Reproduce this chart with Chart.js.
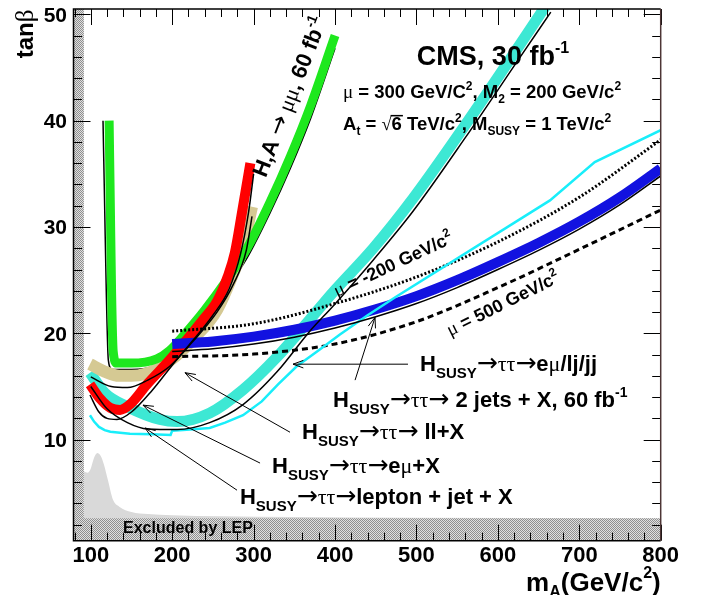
<!DOCTYPE html>
<html>
<head>
<meta charset="utf-8">
<script src="https://cdn.jsdelivr.net/npm/chart.js@4.4.1/dist/chart.umd.min.js"></script>
<style>
  html, body { margin: 0; padding: 0; background: #fff; }
</style>
</head>
<body>
<canvas id="reachChart" width="701" height="595"></canvas>
<script>
// tick labels
const xTicks = [100, 200, 300, 400, 500, 600, 700, 800];
const yTicks = [10, 20, 30, 40, 50];

// H,A -> mu mu, 60 fb-1 (green) and its black edge
const mumuX = [122.5, 124, 125.5, 127.5, 132, 150, 181, 197, 215, 240, 265, 292, 320, 345, 370, 400];
const mumuY = [40, 32, 24, 18.3, 17.2, 17.2, 17.6, 18.4, 19.9, 22.2, 24.8, 28.0, 32.3, 36.6, 41.4, 48.0];
const mumuEdgeX = [115, 117, 119, 121.5, 126, 150, 181, 197, 215, 240, 265, 292, 320, 345, 370, 400];
const mumuEdgeY = [40, 32, 24, 17.5, 16.6, 16.6, 17.0, 17.8, 19.2, 21.4, 24.0, 27.1, 31.3, 35.5, 40.2, 46.8];

// e mu + X (red)
const emuX = [99, 111, 124, 136, 148, 169, 197, 220, 238, 255, 268, 277, 286, 296];
const emuY = [15.2, 13.9, 13.0, 12.8, 13.3, 15.2, 17.5, 19.6, 21.3, 23.0, 25.3, 27.6, 31.5, 36.0];
const emuEdgeX = [99, 110, 120, 132, 150, 175, 200, 225, 250, 270, 284, 294, 300];
const emuEdgeY = [14.2, 12.6, 12.0, 11.9, 12.6, 14.6, 17.0, 19.3, 21.7, 24.2, 27.5, 31.5, 35.0];

// ll + X (tan)
const llX = [99, 117, 135, 150, 167, 185, 205, 225, 255, 277, 286, 298];
const llY = [17.1, 16.4, 16.0, 16.0, 16.2, 16.8, 17.9, 19.4, 22.2, 26.0, 27.8, 31.9];
const llEdgeX = [100, 125, 145, 170, 197, 225, 255, 275, 291, 298];
const llEdgeY = [15.9, 15.0, 14.9, 15.6, 16.9, 19.2, 22.0, 24.6, 27.8, 31.0];

// lepton + jet + X (turquoise)
const ljX = [99, 117, 145, 185, 206, 246, 287, 329, 369, 398, 447, 496, 560, 624, 665];
const ljY = [16.3, 14.4, 13.1, 11.9, 11.7, 12.5, 14.7, 17.8, 21.3, 23.9, 28.0, 32.7, 39.6, 46.8, 51.5];
const ljEdgeX = [100, 120, 145, 170, 206, 246, 287, 329, 369, 398, 447, 496, 560, 624, 665];
const ljEdgeY = [15.0, 12.9, 11.6, 11.0, 10.95, 11.6, 13.3, 16.4, 20.2, 22.6, 26.9, 31.5, 38.4, 45.6, 50.2];

// e mu / lj / jj (thin cyan)
const combX = [99, 104, 110, 117, 124, 148, 175, 198, 200, 222, 246, 265, 287, 310, 330, 353, 380, 406, 440, 474, 664, 719, 800];
const combY = [12.3, 11.7, 11.2, 10.9, 10.74, 10.55, 10.5, 10.45, 10.85, 10.95, 11.1, 11.6, 12.3, 13.6, 15.2, 16.9, 18.4, 19.9, 21.7, 23.4, 32.5, 36.1, 39.1];

// 2 jets + X, 60 fb-1 (blue)
const jjX = [200, 250, 300, 350, 400, 450, 500, 550, 600, 650, 700, 750, 800];
const jjY = [19.0, 19.24, 19.69, 20.34, 21.2, 22.26, 23.5, 25.0, 26.7, 28.5, 30.5, 32.8, 35.5];
const jjEdgeY = [18.3, 18.54, 18.99, 19.64, 20.5, 21.56, 22.8, 24.3, 26.0, 27.8, 29.8, 32.1, 34.8];

// mu = -200 (dotted) and mu = 500 (dashed)
const muNegX = [200, 300, 400, 500, 600, 700, 800];
const muNegY = [20.2, 20.9, 22.8, 25.3, 28.6, 32.8, 38.2];
const mu500X = [200, 300, 400, 500, 600, 700, 800];
const mu500Y = [17.8, 18.05, 19.0, 21.1, 24.3, 27.9, 31.6];

// LEP exclusion
const lepX = [91.5, 96, 100, 104, 108, 112, 116, 121, 127, 135, 150, 170, 200, 260, 350, 500, 800];
const lepY = [7.0, 6.9, 7.3, 8.3, 8.75, 8.5, 7.7, 6.2, 4.4, 3.7, 3.2, 3.0, 2.9, 2.8, 2.72, 2.66, 2.62];
const lepBandX = [78.75, 91.5, 91.5, 800];
const lepBandY = [50.5, 50.5, 2.6, 2.6];

const SANS = '"Liberation Sans", Arial, Helvetica, sans-serif';
const SERIF = '"Liberation Serif", "DejaVu Serif", serif';
const ARROW = '"DejaVu Sans", sans-serif';
const bold = s => 'bold ' + s + 'px ' + SANS;
const greek = s => s + 'px ' + SERIF;
const arrowFont = s => s + 'px ' + ARROW;

function pts(xs, ys) {
    return xs.map((v, i) => ({ x: v, y: ys[i] }));
}

function curve(xs, ys, color, width, order, extra) {
    return Object.assign({
        data: pts(xs, ys),
        borderColor: color,
        borderWidth: width,
        pointRadius: 0,
        fill: false,
        cubicInterpolationMode: 'monotone',
        clip: 0,
        order: order
    }, extra || {});
}

const canvas = document.getElementById('reachChart');
const ctx = canvas.getContext('2d');

// stippled pattern for the LEP band
const tile = document.createElement('canvas');
tile.width = 2; tile.height = 2;
const tctx = tile.getContext('2d');
tctx.fillStyle = '#e0e0e0';
tctx.fillRect(0, 0, 2, 2);
tctx.fillStyle = '#8f8f8f';
tctx.fillRect(0, 0, 1, 1);
tctx.fillRect(1, 1, 1, 1);
const stipple = ctx.createPattern(tile, 'repeat');

// text with pieces in different fonts
function rich(c, parts, x, y, align) {
    let w = 0;
    parts.forEach(p => { c.font = p.f; w += c.measureText(p.t).width; });
    let cx = align === 'center' ? x - w / 2 : (align === 'right' ? x - w : x);
    parts.forEach(p => {
        c.font = p.f;
        c.fillText(p.t, cx, y + (p.dy || 0));
        if (p.bar) {
            const m = c.measureText(p.t).width;
            c.fillRect(cx - 1, y + p.bar, m + 2, 1.5);
        }
        cx += c.measureText(p.t).width;
    });
    return w;
}

function hsusy(s) {
    return [
        { t: 'H', f: bold(s) },
        { t: 'SUSY', f: bold(Math.round(s * 0.7)), dy: s * 0.32 },
        { t: '\u2192', f: arrowFont(s + 3) },
        { t: '\u03c4\u03c4', f: greek(s) },
        { t: '\u2192', f: arrowFont(s + 3) }
    ];
}

const fs = 22;
const notes = [
    { x: 504.4, y: 16.45, parts: hsusy(fs).concat([{ t: 'e', f: bold(fs) }, { t: '\u03bc', f: greek(fs) }, { t: '/lj/jj', f: bold(fs) }]) },
    { x: 397.5, y: 13.07, parts: hsusy(fs).concat([{ t: ' 2 jets + X, 60 fb', f: bold(fs) }, { t: '-1', f: bold(14), dy: -10 }]) },
    { x: 359.5, y: 10.06, parts: hsusy(fs).concat([{ t: ' ll+X', f: bold(fs) }]) },
    { x: 322.6, y: 6.86, parts: hsusy(fs).concat([{ t: 'e', f: bold(fs) }, { t: '\u03bc', f: greek(fs) }, { t: '+X', f: bold(fs) }]) },
    { x: 283.2, y: 3.94, parts: hsusy(fs).concat([{ t: 'lepton + jet + X', f: bold(fs) }]) },
    { x: 500.5, y: 45.24, parts: [{ t: 'CMS, 30 fb', f: bold(27) }, { t: '-1', f: bold(16), dy: -12 }] },
    { x: 409.8, y: 42.1, parts: [
        { t: '\u03bc', f: greek(19) }, { t: ' = 300 GeV/C', f: bold(18.5) }, { t: '2', f: bold(12), dy: -8 },
        { t: ', M', f: bold(18.5) }, { t: '2', f: bold(12), dy: 5 }, { t: ' = 200 GeV/c', f: bold(18.5) }, { t: '2', f: bold(12), dy: -8 }] },
    { x: 409.8, y: 39.13, parts: [
        { t: 'A', f: bold(18.5) }, { t: 't', f: bold(12), dy: 5 }, { t: ' = ', f: bold(18.5) }, { t: '\u221a', f: greek(18.5) },
        { t: '6', f: bold(18.5), bar: -15 }, { t: ' TeV/c', f: bold(18.5) }, { t: '2', f: bold(12), dy: -8 },
        { t: ', M', f: bold(18.5) }, { t: 'SUSY', f: bold(12), dy: 5 }, { t: ' = 1 TeV/c', f: bold(18.5) }, { t: '2', f: bold(12), dy: -8 }] },
    { x: 139.6, y: 1.19, parts: [{ t: 'Excluded by LEP', f: bold(16) }] }
];

// rotated labels: x, y of baseline centre, angle in degrees
const rotNotes = [
    { x: 352.7, y: 42.0, a: -68.7, parts: [{ t: 'H,A ', f: bold(22) }, { t: '\u2192', f: arrowFont(24) }, { t: ' \u03bc\u03bc', f: greek(22) }, { t: ', 60 fb', f: bold(22) }, { t: '-1', f: bold(14), dy: -10 }] },
    { x: 474.3, y: 26.0, a: -25, parts: [{ t: '\u03bc', f: greek(19) }, { t: ' = -200 GeV/c', f: bold(18) }, { t: '2', f: bold(12), dy: -8 }] },
    { x: 609.4, y: 22.3, a: -26.4, parts: [{ t: '\u03bc', f: greek(19) }, { t: ' = 500 GeV/c', f: bold(18) }, { t: '2', f: bold(12), dy: -8 }] }
];

// arrows: tail x, tail y, head x, head y
const arrows = [
    [489.6, 17.1, 348.4, 17.1],
    [424.6, 15.6, 449.1, 21.5],
    [344.7, 10.7, 215.7, 16.3],
    [307.9, 7.8, 164.1, 13.25],
    [279.6, 5.25, 166.6, 11.1]
];

const rootFrame = {
    id: 'rootFrame',
    afterDraw(chart) {
        const c = chart.ctx;
        const a = chart.chartArea;
        const x = chart.scales.x;
        const y = chart.scales.y;
        c.save();

        // ticks on all four sides
        c.strokeStyle = '#000';
        c.lineWidth = 1;
        c.beginPath();
        for (let v = 80; v <= 800; v += 20) {
            const px = Math.round(x.getPixelForValue(v)) + 0.5;
            const len = v % 100 === 0 ? 16 : 8;
            c.moveTo(px, a.bottom); c.lineTo(px, a.bottom - len);
            c.moveTo(px, a.top); c.lineTo(px, a.top + len);
        }
        for (let v = 2; v <= 50; v += 2) {
            const py = Math.round(y.getPixelForValue(v)) + 0.5;
            const len = v % 10 === 0 ? 17 : 8.5;
            c.moveTo(a.left, py); c.lineTo(a.left + len, py);
            c.moveTo(a.right, py); c.lineTo(a.right - len, py);
        }
        c.stroke();

        // frame
        c.lineWidth = 1.5;
        c.beginPath();
        c.moveTo(a.right, a.top); c.lineTo(a.left, a.top); c.lineTo(a.left, a.bottom); c.lineTo(a.right, a.bottom);
        c.stroke();
        c.strokeStyle = '#4d3535';
        c.beginPath();
        c.moveTo(a.right, a.top); c.lineTo(a.right, a.bottom);
        c.stroke();

        // tick labels
        c.fillStyle = '#000';
        c.font = bold(22);
        c.textAlign = 'center';
        c.textBaseline = 'alphabetic';
        xTicks.forEach(v => c.fillText(String(v), x.getPixelForValue(v), 562));
        c.textAlign = 'right';
        c.font = bold(21);
        yTicks.forEach(v => c.fillText(String(v), 67, y.getPixelForValue(v) + 7.5));
        c.textAlign = 'left';

        // axis titles
        rich(c, [{ t: 'm', f: bold(26) }, { t: 'A', f: bold(16), dy: 6 }, { t: '(GeV/c', f: bold(26) }, { t: '2', f: bold(16), dy: -13 }, { t: ')', f: bold(26) }], a.right, 591, 'right');
        c.save();
        c.translate(33, 34);
        c.rotate(-Math.PI / 2);
        rich(c, [{ t: 'tan', f: bold(24) }, { t: '\u03b2', f: greek(25) }], 0, 0, 'center');
        c.restore();

        // annotations
        notes.forEach(n => rich(c, n.parts, x.getPixelForValue(n.x), y.getPixelForValue(n.y), 'left'));
        rotNotes.forEach(n => {
            c.save();
            c.translate(x.getPixelForValue(n.x), y.getPixelForValue(n.y));
            c.rotate(n.a * Math.PI / 180);
            rich(c, n.parts, 0, 0, 'center');
            c.restore();
        });

        // arrows with open heads
        c.strokeStyle = '#000';
        c.lineWidth = 1;
        arrows.forEach(ar => {
            const x0 = x.getPixelForValue(ar[0]), y0 = y.getPixelForValue(ar[1]);
            const x1 = x.getPixelForValue(ar[2]), y1 = y.getPixelForValue(ar[3]);
            const ang = Math.atan2(y1 - y0, x1 - x0);
            c.beginPath();
            c.moveTo(x0, y0); c.lineTo(x1, y1);
            c.moveTo(x1 - 11 * Math.cos(ang - 0.35), y1 - 11 * Math.sin(ang - 0.35));
            c.lineTo(x1, y1);
            c.lineTo(x1 - 11 * Math.cos(ang + 0.35), y1 - 11 * Math.sin(ang + 0.35));
            c.stroke();
        });
        c.restore();
    }
};

new Chart(ctx, {
    type: 'line',
    data: {
        datasets: [
            curve(emuEdgeX, emuEdgeY, '#000', 1.5, 1),
            curve(llEdgeX, llEdgeY, '#000', 1.5, 1),
            curve(ljEdgeX, ljEdgeY, '#000', 1.5, 1),
            curve(jjX, jjEdgeY, '#000', 1.5, 1),
            curve(combX, combY, '#19eefa', 2.5, 2, { cubicInterpolationMode: 'default', tension: 0 }),
            curve(muNegX, muNegY, '#000', 3, 3, { borderDash: [2, 2] }),
            curve(mu500X, mu500Y, '#000', 3, 4, { borderDash: [6, 4] }),
            curve(jjX, jjY, '#1212e0', 10, 5),
            curve(emuX, emuY, '#ff0000', 10, 5.5),
            curve(mumuX, mumuY, '#1ee81e', 9, 6),
            curve(llX, llY, '#d5c993', 12, 6.5),
            curve(mumuEdgeX, mumuEdgeY, '#000', 1.5, 6.8),
            curve(ljX, ljY, '#3de8d4', 11, 9),
            curve(lepBandX, lepBandY, 'rgba(0,0,0,0)', 0, 19, { fill: 'start', backgroundColor: stipple, cubicInterpolationMode: 'default', tension: 0 }),
            curve(lepX, lepY, 'rgba(0,0,0,0)', 0, 20, { fill: 'start', backgroundColor: '#d9d9d9' })
        ]
    },
    options: {
        responsive: false,
        animation: false,
        devicePixelRatio: 1,
        layout: { padding: { left: 73.5, right: 40.3, top: 9, bottom: 54.3 } },
        scales: {
            x: { type: 'linear', min: 78.75, max: 800, display: false },
            y: { type: 'linear', min: 0.5, max: 50.5, display: false }
        },
        plugins: {
            legend: { display: false },
            tooltip: { enabled: false }
        }
    },
    plugins: [rootFrame]
});
</script>
</body>
</html>
